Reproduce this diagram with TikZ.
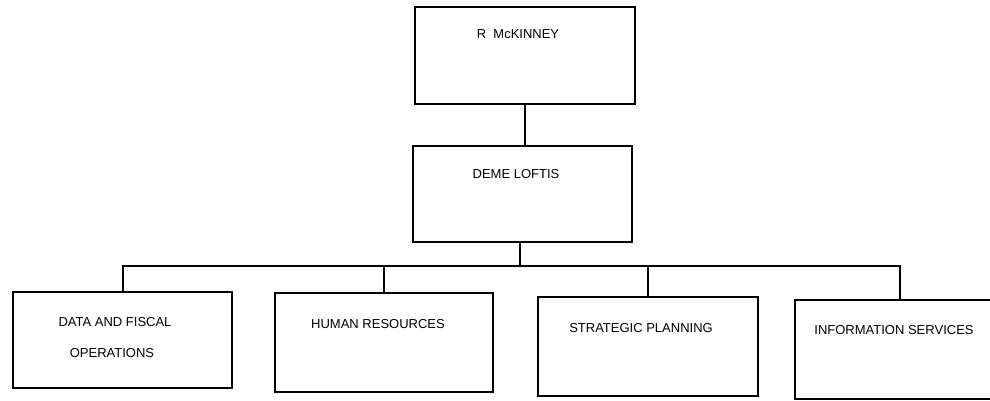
\documentclass[tikz,border=0pt]{standalone}
\usepackage{fontspec}
\setmainfont{Liberation Sans}
\begin{document}
\begin{tikzpicture}[x=1pt,y=-1pt,
  box/.style={draw, line width=2pt, rectangle, inner sep=0pt},
  lbl/.style={inner sep=0pt, font=\fontsize{13}{15}\selectfont},
  wire/.style={line width=2pt}]
\useasboundingbox (0,0) rectangle (990,401);
\clip (0,0) rectangle (990,401);

% boxes
\node[box, minimum width=220pt, minimum height=97pt] (top) at (525,55.5) {};
\node[box, minimum width=219pt, minimum height=96pt] (mid) at (522.5,194) {};
\node[box, minimum width=219pt, minimum height=96pt] (d1) at (122.5,340) {};
\node[box, minimum width=218pt, minimum height=99pt] (d2) at (384,342.5) {};
\node[box, minimum width=220pt, minimum height=99pt] (d3) at (648,346.5) {};
\node[box, minimum width=210pt, minimum height=99pt] (d4) at (900,349.5) {};

% labels
\node[lbl] (tTop) at (518,34) {R\ \ McKINNEY};
\node[lbl] (tMid) at (516,174) {DEME LOFTIS};
\node[lbl] (tD1a) at (115,322) {DATA AND FISCAL};
\node[lbl] (tD1b) at (112,353) {OPERATIONS};
\node[lbl] (tD2) at (378,324) {HUMAN RESOURCES};
\node[lbl] (tD3) at (641,328) {STRATEGIC PLANNING};
\node[lbl] (tD4) at (894,330) {INFORMATION SERVICES};

% connectors
\coordinate (bus) at (520,266);
\draw[wire] (top.south) -- (top.south |- mid.north);
\draw[wire] (mid.south -| bus) -- (bus);
\draw[wire] (d1.north) -- (d1.north |- bus) -- (d4.north |- bus) -- (d4.north);
\draw[wire] (d2.north) -- (d2.north |- bus);
\draw[wire] (d3.north) -- (d3.north |- bus);
\end{tikzpicture}
\end{document}
